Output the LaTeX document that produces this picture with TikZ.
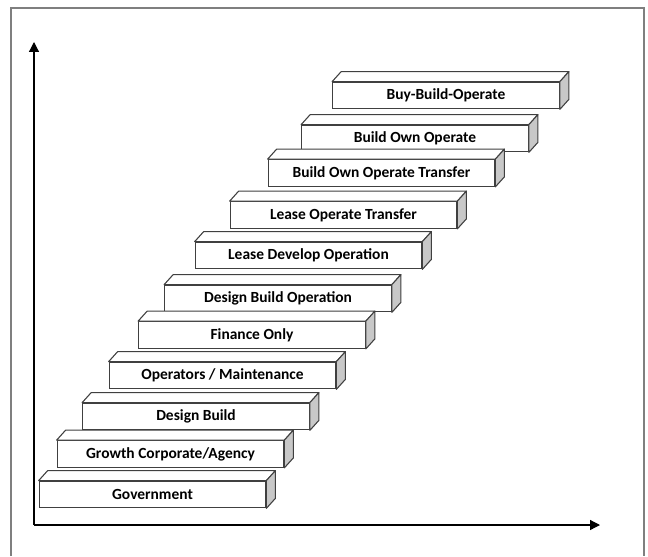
\documentclass[tikz,border=0pt]{standalone}
\usepackage{fontspec}
\setsansfont{Carlito}
\usetikzlibrary{arrows.meta, positioning, calc}

\definecolor{edgegray}{HTML}{404040}
\definecolor{sidegray}{HTML}{C8C8C8}
\definecolor{framegray}{HTML}{7F7F7F}

\begin{document}
\begin{tikzpicture}[x=0.75pt, y=-0.75pt,
    stair/.style={draw=edgegray, fill=white, line width=0.8pt, minimum width=170pt, minimum height=20pt,
        inner sep=0pt, font=\sffamily\bfseries\fontsize{11.6}{13}\selectfont},
    stairtop/.style={draw=edgegray, fill=white, line width=0.8pt, line join=round},
    stairside/.style={draw=edgegray, fill=sidegray, line width=0.8pt, line join=round},
    axis/.style={line width=0.9pt, -{Triangle[length=7.5pt, width=7.5pt]}}]

\useasboundingbox (0,0) rectangle (648,556);

% Outer frame (runs off the bottom)
\draw[framegray, line width=0.8pt] (11,556) -- (11,8) -- (644,8) -- (644,556);

% Axes
\coordinate (origin) at (34,525);
\coordinate (ytop) at (34,42);
\coordinate (xend) at (600,525);
\draw[axis] (origin) -- (ytop);
\draw[axis] (origin) -- (xend);

% Stairs, bottom to top
\node[stair] (s1) at (152.5,494.5) {Government};
\node[stair] (s2) at (170.5,454) {Growth Corporate/Agency};
\node[stair] (s3) at (196,416.5) {Design Build};
\node[stair] (s4) at (222.5,375.5) {Operators / Maintenance};
\node[stair] (s5) at (252,335) {Finance Only};
\node[stair] (s6) at (278,298.5) {Design Build Operation};
\node[stair] (s7) at (308.5,255.5) {Lease Develop Operation};
\node[stair] (s8) at (343.5,215) {Lease Operate Transfer};
\node[stair] (s9) at (381.5,173) {Build Own Operate Transfer};
\node[stair] (s10) at (415,138.5) {Build Own Operate};
\node[stair] (s11) at (446,95.5) {Buy-Build-Operate};

% Top and side faces
\foreach \s in {s1,s2,s3,s4,s5,s6,s7,s8,s9,s10,s11} {
  \draw[stairtop] (\s.north west) -- ++(9,-10) -- ([shift={(9,-10)}]\s.north east) -- (\s.north east) -- cycle;
  \draw[stairside] (\s.north east) -- ++(9,-10) -- ([shift={(9,-10)}]\s.south east) -- (\s.south east) -- cycle;
}

\end{tikzpicture}
\end{document}
